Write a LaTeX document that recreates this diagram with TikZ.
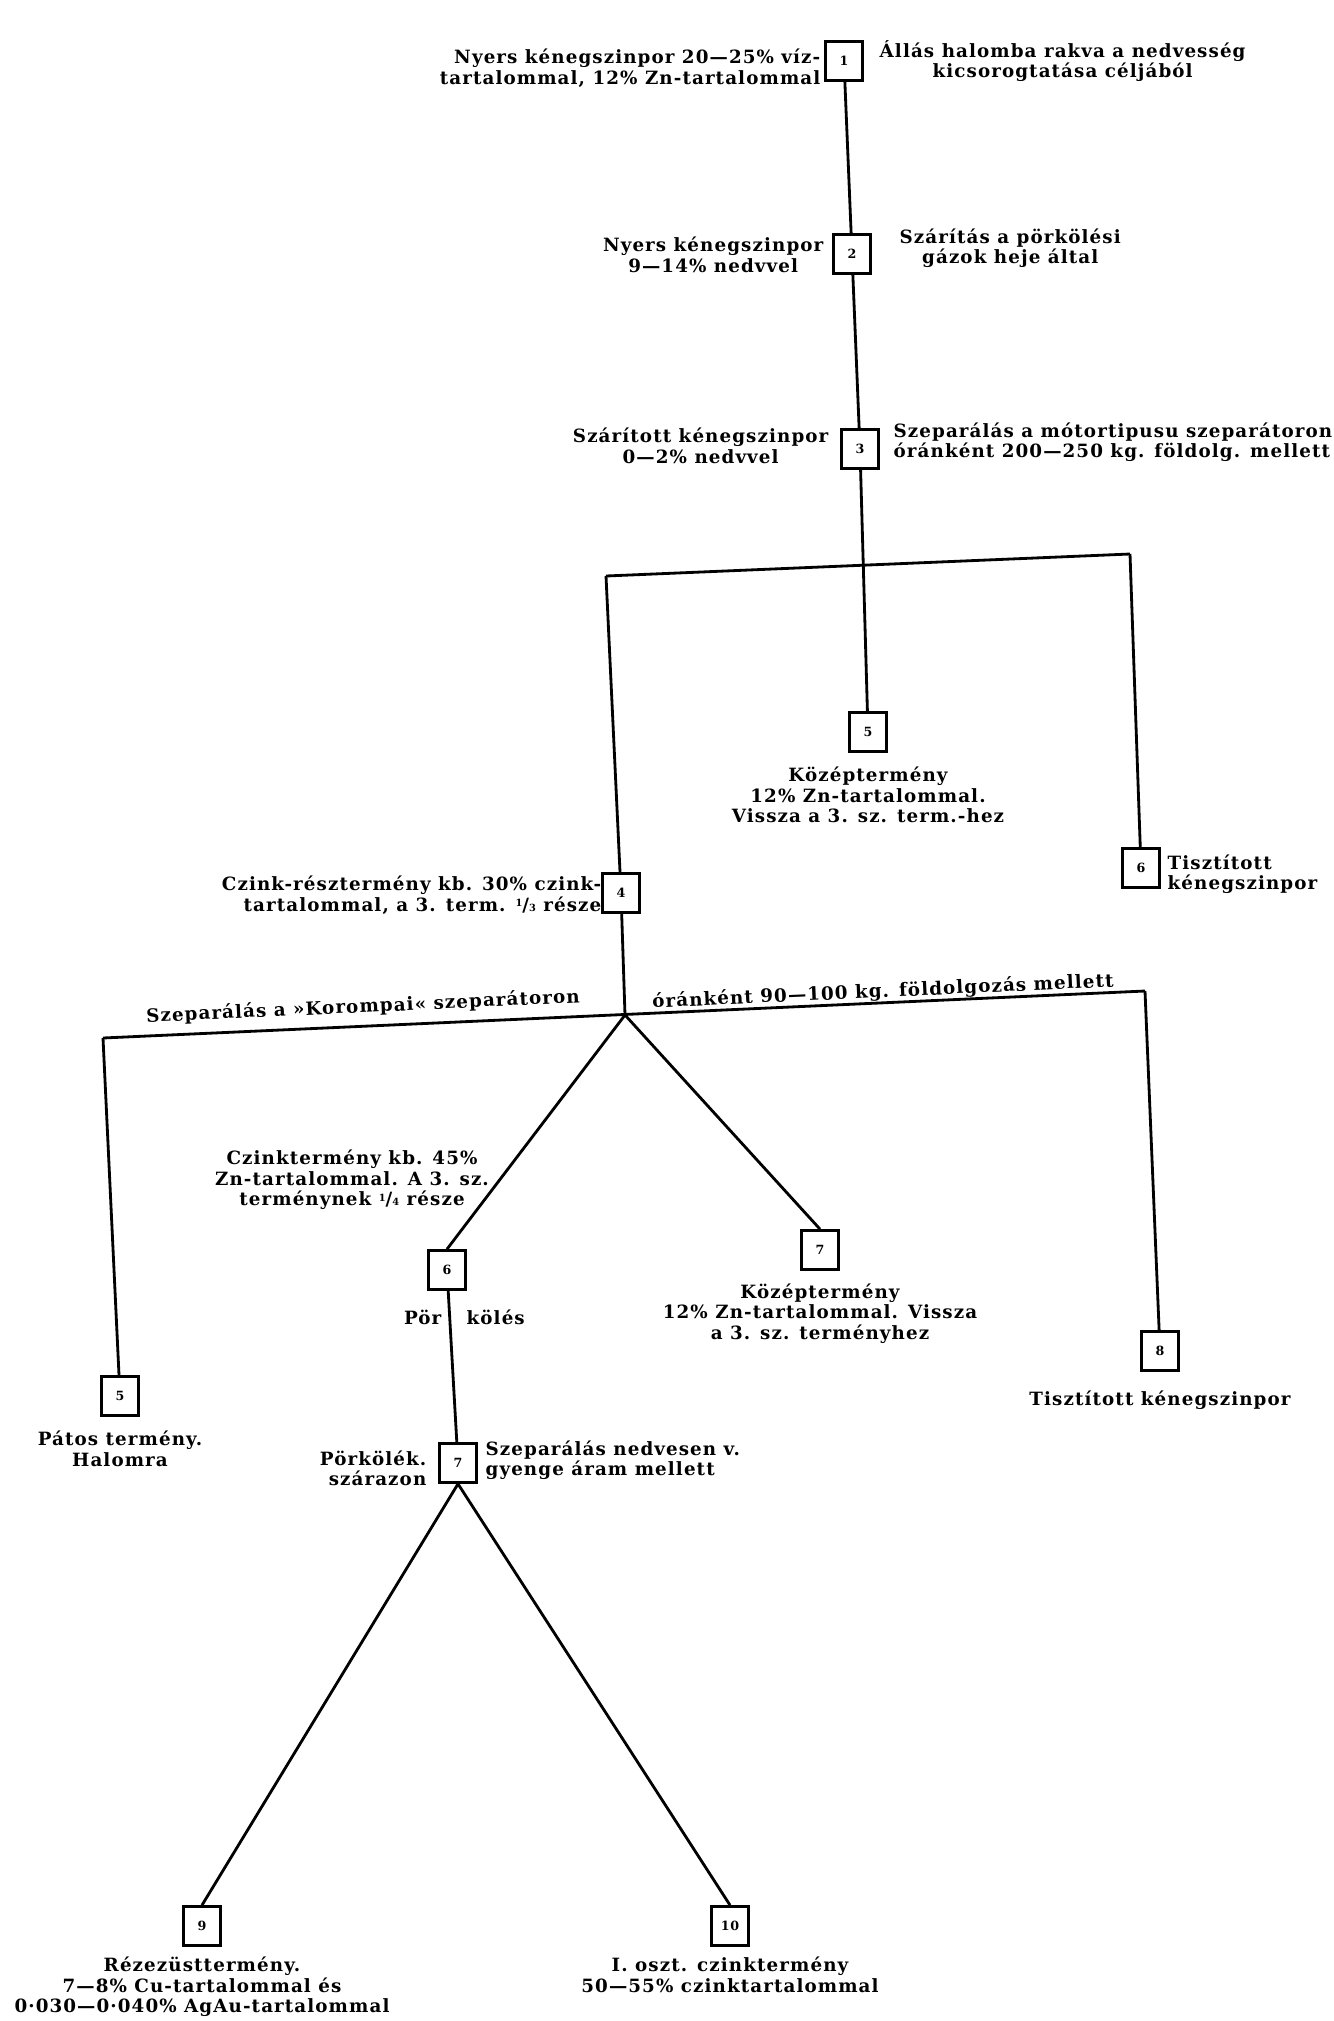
\documentclass[tikz,border=0pt]{standalone}
\usepackage{fontspec}
\setmainfont[LetterSpace=6]{DejaVu Serif}
\usetikzlibrary{positioning}

\newcommand{\tort}[2]{{\raisebox{.45ex}{\scriptsize #1}/{\scriptsize #2}}}

\tikzset{
	szam/.style={draw, line width=1.8pt, minimum width=0.92cm, minimum height=0.98cm, inner sep=0pt, font=\bfseries\small},
	felirat/.style={font=\bfseries\fontsize{13}{14.5}\selectfont, inner sep=1pt},
	vonal/.style={line width=2pt},
}

\begin{document}
\begin{tikzpicture}[x=0.025cm,y=-0.025cm]
	\useasboundingbox (0,0) rectangle (1334,2021);
	
	% a szamozott dobozok
	\node[szam] (b1) at (844,61){1};
	\node[szam] (b2) at (852,254){2};
	\node[szam] (b3) at (860,449){3};
	\node[szam] (b5) at (868,732){5};
	\node[szam] (b6) at (1141,868){6};
	\node[szam] (b4) at (621,893){4};
	\node[szam] (b6b) at (447,1270){6};
	\node[szam] (b7) at (820,1250){7};
	\node[szam] (b5b) at (120,1396){5};
	\node[szam] (b8) at (1160,1351){8};
	\node[szam] (b7b) at (458,1463){7};
	\node[szam] (b9) at (202,1926){9};
	\node[szam] (b10) at (730,1926){10};
	
	\coordinate (j1l) at (606,576);
	\coordinate (j1r) at (1130,554);
	\coordinate (j2l) at (103,1038);
	\coordinate (j2r) at (1145,991);
	\coordinate (j2) at (625,1015);
	
	\draw[vonal] (b1)--(b2);
	\draw[vonal] (b2)--(b3);
	\draw[vonal] (b3)--(b5);
	\draw[vonal] (j1l)--(j1r);
	\draw[vonal] (j1l)--(b4);
	\draw[vonal] (j1r)--(b6);
	\draw[vonal] (b4)--(j2);
	\draw[vonal] (j2l)--(j2r);
	\draw[vonal] (j2l)--(b5b);
	\draw[vonal] (j2r)--(b8);
	\draw[vonal] (j2)--(b6b.north);
	\draw[vonal] (j2)--(b7.north);
	\draw[vonal] (b6b)--(b7b);
	\draw[vonal] (b7b.south)--(b9.north);
	\draw[vonal] (b7b.south)--(b10.north);
	
	% feliratok
	\node[felirat, anchor=east, align=right] (l1) at (822,68){Nyers kénegszinpor 20—25\% víz-\\tartalommal, 12\% Zn-tartalommal};
	\node[felirat, anchor=west, align=center] (r1) at (878,61){Állás halomba rakva a nedvesség\\kicsorogtatása céljából};
	\node[felirat, anchor=east, align=center] (l2) at (825,255){Nyers kénegszinpor\\9—14\% nedvvel};
	\node[felirat, anchor=west, align=center] (r2) at (898,248){Szárítás a pörkölési\\gázok heje által};
	\node[felirat, anchor=east, align=center] (l3) at (830,446){Szárított kénegszinpor\\0—2\% nedvvel};
	\node[felirat, anchor=west, align=left] (r3) at (892,442){Szeparálás a mótortipusu szeparátoron\\óránként 200—250 kg. földolg. mellett};
	\node[felirat, below=9pt of b5, align=center] (t5){Középtermény\\12\% Zn-tartalommal.\\Vissza a 3. sz. term.-hez};
	\node[felirat, anchor=west, align=left] (r6) at (1166,874){Tisztított\\kénegszinpor};
	\node[felirat, anchor=east, align=right] (l4) at (603,895){Czink-résztermény kb. 30\% czink-\\tartalommal, a 3. term. \tort{1}{3} része};
	\node[felirat, rotate=2.6] (s1) at (363,1007){Szeparálás a »Korompai« szeparátoron};
	\node[felirat, rotate=2.6] (s2) at (883,992){óránként 90—100 kg. földolgozás mellett};
	\node[felirat, align=center] (l6b) at (352,1180){Czinktermény kb. 45\%\\Zn-tartalommal. A 3. sz.\\terménynek \tort{1}{4} része};
	\node[felirat, anchor=east] (p1) at (443,1317){Pör};
	\node[felirat, anchor=west] (p2) at (465,1317){kölés};
	\node[felirat, below=8pt of b7, align=center] (t7){Középtermény\\12\% Zn-tartalommal. Vissza\\a 3. sz. terményhez};
	\node[felirat, below=12pt of b8] (t8){Tisztított kénegszinpor};
	\node[felirat, below=9pt of b5b, align=center] (t5b){Pátos termény.\\Halomra};
	\node[felirat, anchor=east, align=right] (l7b) at (428,1468){Pörkölék.\\szárazon};
	\node[felirat, anchor=west, align=left] (r7b) at (484,1460){Szeparálás nedvesen v.\\gyenge áram mellett};
	\node[felirat, below=6pt of b9, align=center] (t9){Rézezüsttermény.\\7—8\% Cu-tartalommal és\\0·030—0·040\% AgAu-tartalommal};
	\node[felirat, below=6pt of b10, align=center] (t10){I. oszt. czinktermény\\50—55\% czinktartalommal};
\end{tikzpicture}
\end{document}
